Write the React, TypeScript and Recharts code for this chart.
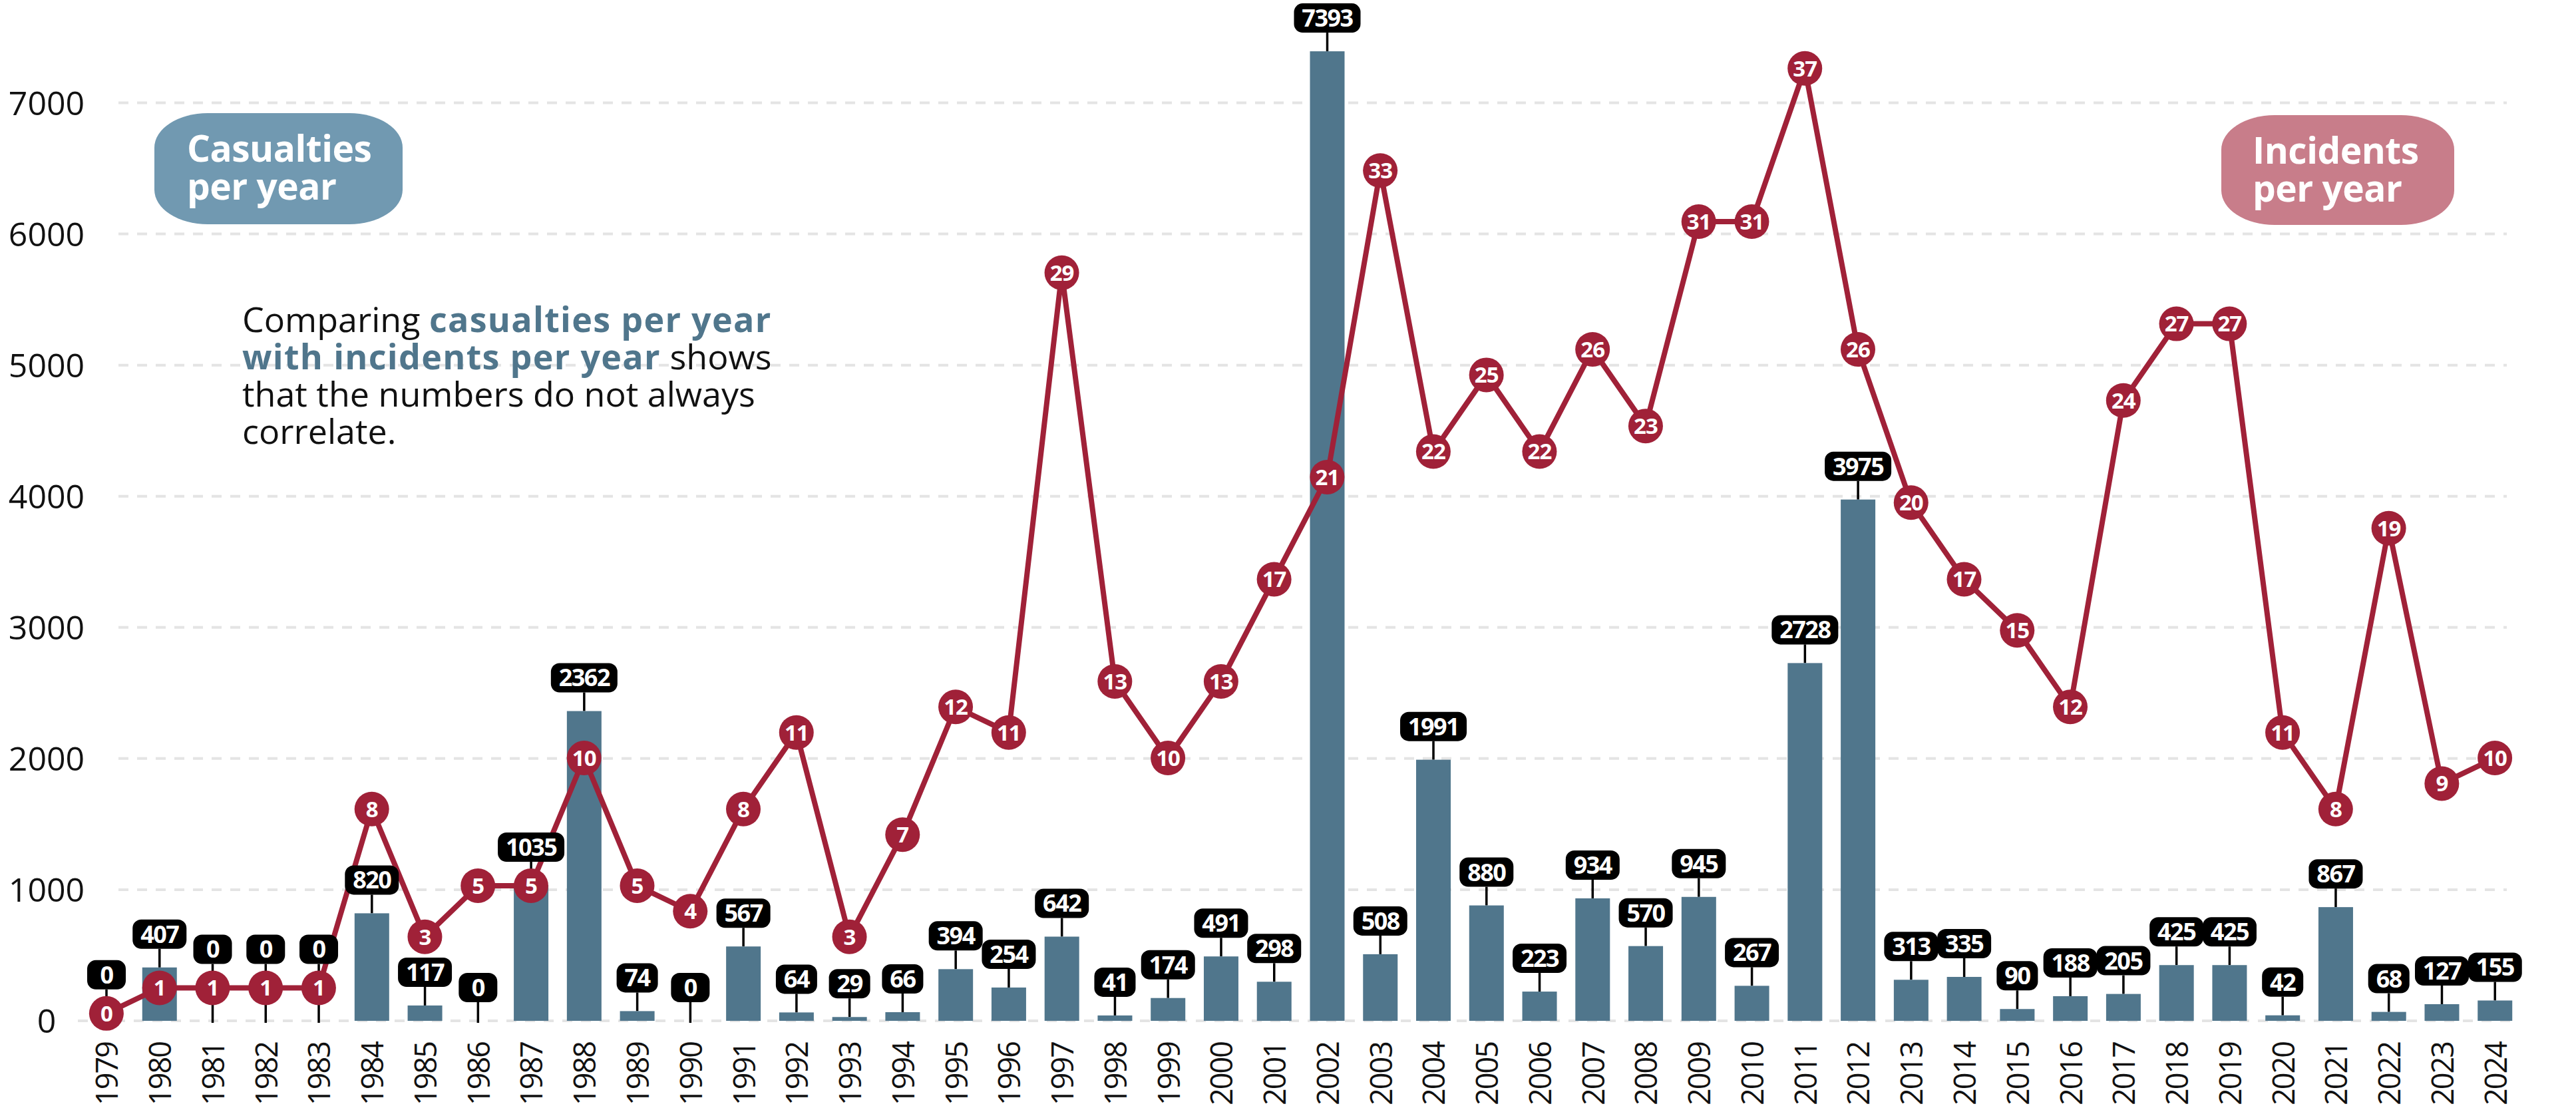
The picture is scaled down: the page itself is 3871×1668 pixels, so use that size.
import React from 'react';
import { ComposedChart, Bar, Line, XAxis, YAxis, CartesianGrid, LabelList } from 'recharts';

const years: string[] = [
  '1979', '1980', '1981', '1982', '1983', '1984', '1985', '1986', '1987', '1988',
  '1989', '1990', '1991', '1992', '1993', '1994', '1995', '1996', '1997', '1998',
  '1999', '2000', '2001', '2002', '2003', '2004', '2005', '2006', '2007', '2008',
  '2009', '2010', '2011', '2012', '2013', '2014', '2015', '2016', '2017', '2018',
  '2019', '2020', '2021', '2022', '2023', '2024',
];

const casualties: number[] = [
  0, 407, 0, 0, 0, 820, 117, 0, 1035, 2362,
  74, 0, 567, 64, 29, 66, 394, 254, 642, 41,
  174, 491, 298, 7393, 508, 1991, 880, 223, 934, 570,
  945, 267, 2728, 3975, 313, 335, 90, 188, 205, 425,
  425, 42, 867, 68, 127, 155,
];

const incidents: number[] = [
  0, 1, 1, 1, 1, 8, 3, 5, 5, 10,
  5, 4, 8, 11, 3, 7, 12, 11, 29, 13,
  10, 13, 17, 21, 33, 22, 25, 22, 26, 23,
  31, 31, 37, 26, 20, 17, 15, 12, 24, 27,
  27, 11, 8, 19, 9, 10,
];

const casualtyTicks: number[] = [0, 1000, 2000, 3000, 4000, 5000, 6000, 7000];
const incidentTicks: number[] = [0, 5, 10, 15, 20, 25, 30, 35];

const data = years.map((year, i) => ({ year, casualties: casualties[i], incidents: incidents[i] }));

const WIDTH = 3871;
const HEIGHT = 1668;
const PLOT_TOP = 56;
const X_AXIS_H = 134;
const PLOT_H = HEIGHT - PLOT_TOP - X_AXIS_H;
const LINE_DOMAIN: [number, number] = [-0.29, 38.22];

const BAR_COLOR = '#50768c';
const RED = '#a02138';
const GRID = '#e4e4e4';
const FONT = '"Open Sans", "Noto Sans", sans-serif';

const MARKER_R = 26;
const TAG_H = 44;
const STEM = 28;

// y of the incidents marker for a given index (same mapping as the hidden "line" axis)
const lineY = (v: number) =>
  PLOT_TOP + ((LINE_DOMAIN[1] - v) / (LINE_DOMAIN[1] - LINE_DOMAIN[0])) * PLOT_H;

// where the bottom of the value tag sits; pushed above the marker when they'd overlap
const tagBottom = (index: number, barTop: number) => {
  let bottom = barTop - STEM;
  const my = lineY(incidents[index]);
  if (my + MARKER_R > bottom - TAG_H && my - MARKER_R < barTop) {
    bottom = Math.min(bottom, my - MARKER_R - 10);
  }
  return bottom;
};

const BarWithStem = (props: any) => {
  const { x, y, width, height, index } = props;
  const top = Math.min(y, y + height);
  const h = Math.abs(height);
  const cx = x + width / 2;
  const bottom = tagBottom(index, top);
  return (
    <g>
      <line x1={cx} x2={cx} y1={bottom} y2={h > 0 ? top : top + 3} stroke="#000" strokeWidth={3.5} />
      {h > 0 && <rect x={x} y={top} width={width} height={h} fill={BAR_COLOR} />}
    </g>
  );
};

const ValueTag = (props: any) => {
  const vb = props.viewBox ?? props;
  const cx = vb.x + vb.width / 2;
  const top = Math.min(vb.y, vb.y + vb.height);
  const text = String(props.value);
  const w = Math.max(58, text.length * 19 + 24);
  const bottom = tagBottom(props.index, top);
  return (
    <g>
      <rect x={cx - w / 2} y={bottom - TAG_H} width={w} height={TAG_H} rx={13} fill="#000" />
      <text
        x={cx}
        y={bottom - TAG_H / 2}
        dy="0.36em"
        textAnchor="middle"
        fill="#fff"
        fontSize={36}
        fontWeight={700}
        letterSpacing={-1.5}
        fontFamily={FONT}
      >
        {text}
      </text>
    </g>
  );
};

const IncidentDot = (p: any) => (
  <g key={`dot-${p.index}`}>
    <circle cx={p.cx} cy={p.cy} r={MARKER_R} fill={RED} />
    <text
      x={p.cx}
      y={p.cy}
      dy="0.36em"
      textAnchor="middle"
      fill="#fff"
      fontSize={33}
      fontWeight={700}
      letterSpacing={-1}
      fontFamily={FONT}
    >
      {p.payload.incidents}
    </text>
  </g>
);

const YearTick = (p: any) => (
  <text
    x={p.x}
    y={p.y}
    transform={`rotate(-90, ${p.x}, ${p.y})`}
    textAnchor="end"
    dominantBaseline="central"
    fontSize={45}
    letterSpacing={-2}
    fill="#111"
    fontFamily={FONT}
  >
    {p.payload.value}
  </text>
);

const LeftTick = (p: any) => (
  <text x={70} y={p.y} dy="0.36em" textAnchor="middle" fontSize={50} fill="#111" fontFamily={FONT}>
    {p.payload.value}
  </text>
);

const RightTick = (p: any) => (
  <text x={3830} y={p.y} dy="0.36em" textAnchor="middle" fontSize={50} fill="#111" fontFamily={FONT}>
    {p.payload.value}
  </text>
);

// dashed grid; no line at the very top edge of the plot
const GridLine = (p: any) => {
  const y = Number(p.y1);
  if (!(y > PLOT_TOP + 40)) return <g key={`grid-${p.index}`} />;
  const isZero = y > PLOT_TOP + PLOT_H - 2;
  return (
    <line
      key={`grid-${p.index}`}
      x1={isZero ? 117 : 178}
      x2={isZero ? 3775 : 3767}
      y1={y}
      y2={y}
      stroke={GRID}
      strokeWidth={4}
      strokeDasharray="15 13"
    />
  );
};

const pill: React.CSSProperties = {
  position: 'absolute',
  boxSizing: 'border-box',
  color: '#fff',
  fontFamily: FONT,
  fontWeight: 700,
  fontSize: 55,
  lineHeight: '57px',
  paddingTop: 23,
  borderRadius: '80px / 52px',
  whiteSpace: 'nowrap',
  letterSpacing: -0.5,
};

const strong: React.CSSProperties = { color: BAR_COLOR, fontWeight: 700, letterSpacing: 1.3 };

const App = () => {
  return (
    <div style={{ position: 'absolute', left: 0, top: 0, width: WIDTH, height: HEIGHT, background: '#fff' }}>
      <ComposedChart
        width={WIDTH}
        height={HEIGHT}
        data={data}
        margin={{ top: PLOT_TOP, right: 0, bottom: 0, left: 0 }}
      >
        <CartesianGrid yAxisId="left" vertical={false} horizontal={GridLine} horizontalValues={casualtyTicks} />
        <XAxis
          dataKey="year"
          interval={0}
          tickLine={false}
          axisLine={false}
          height={X_AXIS_H}
          tickSize={0}
          tickMargin={32}
          tick={YearTick}
        />
        <YAxis
          yAxisId="left"
          type="number"
          domain={[0, 7500]}
          ticks={casualtyTicks}
          width={120}
          tickLine={false}
          axisLine={false}
          tick={LeftTick}
        />
        <YAxis
          yAxisId="right"
          orientation="right"
          type="number"
          domain={[0, 37.5]}
          ticks={incidentTicks}
          width={82}
          tickLine={false}
          axisLine={false}
          tick={RightTick}
        />
        <YAxis yAxisId="line" type="number" domain={LINE_DOMAIN} hide />
        <Bar
          yAxisId="left"
          dataKey="casualties"
          barSize={52}
          fill={BAR_COLOR}
          shape={BarWithStem}
          isAnimationActive={false}
        >
          <LabelList dataKey="casualties" content={ValueTag} />
        </Bar>
        <Line
          yAxisId="line"
          type="linear"
          dataKey="incidents"
          stroke={RED}
          strokeWidth={8}
          dot={IncidentDot}
          activeDot={false}
          isAnimationActive={false}
        />
      </ComposedChart>

      <div style={{ ...pill, left: 232, top: 170, width: 373, height: 167, background: '#7199b1', paddingLeft: 49 }}>
        Casualties
        <br />
        per year
      </div>
      <div style={{ ...pill, left: 3338, top: 173, width: 350, height: 165, background: '#c87d8a', paddingLeft: 47 }}>
        Incidents
        <br />
        per year
      </div>

      <div
        style={{
          position: 'absolute',
          left: 364,
          top: 451,
          fontFamily: FONT,
          fontSize: 52,
          lineHeight: '56px',
          color: '#111',
          whiteSpace: 'nowrap',
        }}
      >
        Comparing <span style={strong}>casualties per year</span>
        <br />
        <span style={strong}>with incidents per year</span> shows
        <br />
        that the numbers do not always
        <br />
        correlate.
      </div>
    </div>
  );
};

export default App;
